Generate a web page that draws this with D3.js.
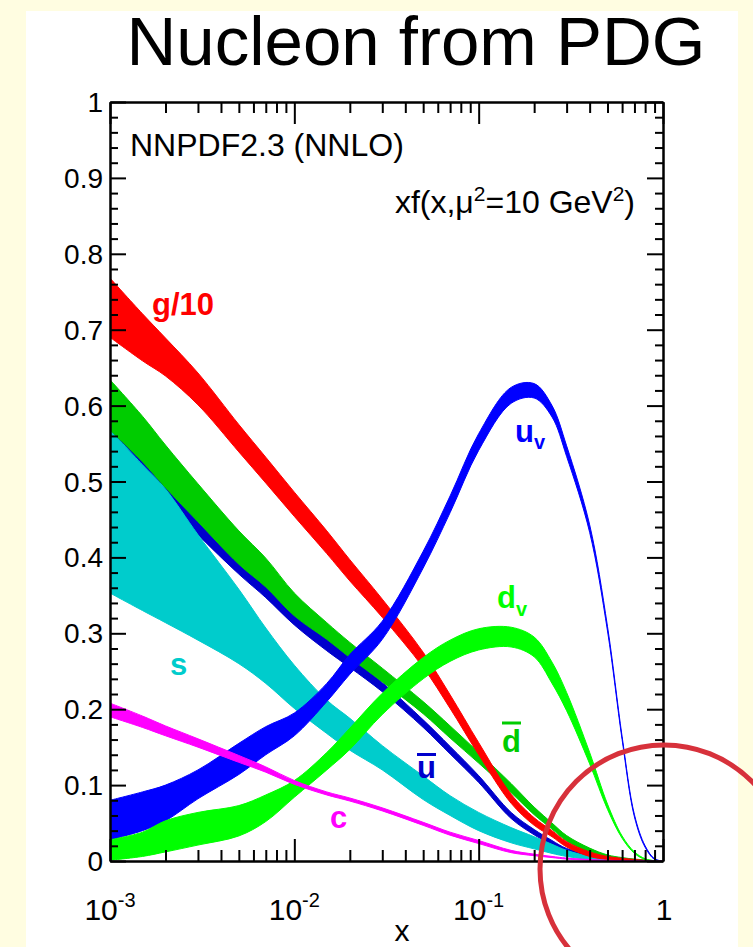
<!DOCTYPE html>
<html><head><meta charset="utf-8">
<script src="https://cdn.jsdelivr.net/npm/d3@7"></script>
<style>
html,body{margin:0;padding:0;background:#fffde1;}
svg{display:block;}
text{font-family:"Liberation Sans", Arial, Helvetica, sans-serif;}
</style></head><body>
<svg id="c" width="753" height="947"></svg>
<script>
// ---- data ----
const xGrid = [0.001,0.0015,0.002,0.003,0.005,0.007,0.01,0.015,0.02,0.03,0.05,0.07,0.1,0.15,0.2,0.25,0.3,0.4,0.5,0.6,0.7,0.8,0.9,1.0];

const gLo  = [.690,.659,.639,.601,.539,.498,.454,.405,.369,.321,.255,.201,.140,.076,.047,.032,.0185,.006,.002,.0005,0,0,0,0];
const gHi  = [.768,.721,.689,.643,.575,.532,.486,.435,.397,.345,.275,.219,.156,.088,.057,.040,.0255,.012,.006,.0035,.002,.001,.0005,0];

const ubarLo = [.555,.512,.475,.430,.378,.347,.311,.277,.255,.223,.176,.141,.1035,.056,.0345,.021,.0115,.005,.0015,.0005,0,0,0,0];
const ubarHi = [.615,.568,.525,.470,.402,.367,.329,.293,.269,.235,.186,.151,.1125,.064,.0415,.027,.0165,.009,.0045,.0025,.0014,.0006,.0002,0];

const dbarLo = [.568,.526,.492,.447,.391,.361,.323,.292,.268,.236,.194,.162,.129,.090,.061,.042,.0265,.011,.004,.0015,.0005,0,0,0];
const dbarHi = [.634,.586,.548,.497,.435,.399,.353,.314,.288,.254,.210,.178,.143,.102,.071,.050,.0335,.017,.008,.0045,.0025,.0014,.0005,0];

const sLo = [.353,.330,.314,.291,.260,.234,.201,.168,.146,.120,.081,.060,.040,.024,.016,.010,.006,.002,.001,.0005,.0002,0,0,0];
const sHi = [.568,.522,.490,.430,.358,.307,.258,.212,.188,.152,.112,.086,.064,.044,.032,.022,.014,.006,.003,.0015,.0006,.0003,.0001,0];

const cLo = [.190,.176,.165,.150,.130,.117,.101,.087,.079,.066,.047,.034,.023,.011,.007,.0045,.0025,.001,.0004,.0001,0,0,0,0];
const cHi = [.208,.191,.178,.161,.139,.124,.106,.091,.083,.070,.051,.038,.027,.014,.009,.006,.0038,.002,.001,.0005,.0002,0,0,0];

const uvLo = [.028,.040,.053,.082,.114,.140,.165,.210,.246,.292,.386,.459,.541,.603,.610,.585,.533,.433,.303,.160,.058,.018,.002,0];
const uvHi = [.080,.091,.100,.120,.155,.177,.195,.234,.272,.316,.408,.481,.563,.624,.629,.600,.547,.443,.309,.164,.061,.020,.003,0];

const dvLo = [.001,.006,.012,.021,.033,.052,.084,.120,.147,.193,.240,.263,.278,.282,.269,.234,.198,.128,.068,.030,.010,.002,0,0];
const dvHi = [.028,.038,.053,.064,.073,.087,.106,.143,.175,.221,.268,.291,.306,.308,.295,.262,.222,.143,.075,.033,.012,.003,.0004,0];

const xMajor = [0.001,0.01,0.1,1];
const xMajorExp = ["-3","-2","-1",""];
const yMajor = [0,0.1,0.2,0.3,0.4,0.5,0.6,0.7,0.8,0.9,1];
const yMajorLabels = ["0","0.1","0.2","0.3","0.4","0.5","0.6","0.7","0.8","0.9","1"];

// ---- drawing ----
const W=753,H=947;
const svg=d3.select('#c');
svg.append('rect').attr('width',W).attr('height',H).attr('fill','#fffde1');
svg.append('rect').attr('x',26).attr('y',11).attr('width',712).attr('height',H-11).attr('fill','#ffffff');

const x=d3.scaleLog().domain([1e-3,1]).range([110,663]);
const y=d3.scaleLinear().domain([0,1]).range([861,102]);

svg.append('defs').append('clipPath').attr('id','clip')
  .append('rect').attr('x',110).attr('y',102).attr('width',553).attr('height',759);

const plot=svg.append('g').attr('clip-path','url(#clip)');
const series=[
  {lo:ubarLo,hi:ubarHi,col:'#0000cc'},
  {lo:sLo,hi:sHi,col:'#00cccc'},
  {lo:dbarLo,hi:dbarHi,col:'#00cc00'},
  {lo:gLo,hi:gHi,col:'#ff0000'},
  {lo:uvLo,hi:uvHi,col:'#0000ff'},
  {lo:dvLo,hi:dvHi,col:'#00ff00'},
  {lo:cLo,hi:cHi,col:'#ff00ff'}
];
const area=d3.area().x(d=>x(d.x)).y0(d=>y(d.lo)).y1(d=>y(d.hi)).curve(d3.curveCatmullRom.alpha(0.5));
series.forEach(s=>{
  const pts=xGrid.map((v,i)=>({x:v,lo:s.lo[i],hi:s.hi[i]}));
  plot.append('path').datum(pts).attr('d',area).attr('fill',s.col).attr('stroke',s.col).attr('stroke-width',1);
});

// minor ticks
const xMinor=[];
[0.001,0.01,0.1].forEach(b=>{for(let k=2;k<=9;k++) xMinor.push(b*k);});
const yMinor=d3.range(0,51).map(i=>i*0.02).filter(v=>Math.abs(v*10-Math.round(v*10))>1e-6);

function styleAxis(g){
  g.selectAll('.domain').attr('stroke','#000').attr('stroke-width',2);
  g.selectAll('.tick line').attr('stroke','#000').attr('stroke-width',2);
}
// bottom & top
[[y(0),d3.axisBottom],[y(1),d3.axisTop]].forEach(([ty,fn])=>{
  svg.append('g').attr('transform',`translate(0,${ty})`)
    .call(fn(x).tickValues(xMajor).tickSize(-22).tickSizeOuter(0).tickFormat('')).call(styleAxis);
  svg.append('g').attr('transform',`translate(0,${ty})`)
    .call(fn(x).tickValues(xMinor).tickSize(-11).tickSizeOuter(0).tickFormat('')).call(styleAxis);
});
// left & right
[[x(1e-3),d3.axisLeft],[x(1),d3.axisRight]].forEach(([tx,fn])=>{
  svg.append('g').attr('transform',`translate(${tx},0)`)
    .call(fn(y).tickValues(yMajor).tickSize(-16).tickSizeOuter(0).tickFormat('')).call(styleAxis);
  svg.append('g').attr('transform',`translate(${tx},0)`)
    .call(fn(y).tickValues(yMinor).tickSize(-8).tickSizeOuter(0).tickFormat('')).call(styleAxis);
});

// y labels
svg.append('g').selectAll('text').data(yMajor).join('text')
  .attr('x',103).attr('y',d=>y(d)).attr('dy','0.36em')
  .attr('text-anchor','end').attr('font-size',28).text((d,i)=>yMajorLabels[i]);

// x labels
xMajor.forEach((v,i)=>{
  const t=svg.append('text').attr('x',x(v)+(xMajorExp[i]?0:1)).attr('y',920).attr('text-anchor','middle').attr('font-size',30);
  if(xMajorExp[i]){
    t.append('tspan').text('10');
    t.append('tspan').attr('font-size',20).attr('dy',-13).text(xMajorExp[i]);
  } else t.text('1');
});
svg.append('text').attr('x',402).attr('y',941).attr('text-anchor','middle').attr('font-size',30).text('x');

// title
svg.append('text').attr('x',416).attr('y',65).attr('text-anchor','middle').attr('font-size',69).text('Nucleon from PDG');

svg.append('text').attr('x',130).attr('y',156).attr('font-size',32).text('NNPDF2.3 (NNLO)');
const t2=svg.append('text').attr('x',635).attr('y',213).attr('text-anchor','end').attr('font-size',32);
t2.append('tspan').text('xf(x,μ');
t2.append('tspan').attr('font-size',21).attr('dy',-12).text('2');
t2.append('tspan').attr('dy',12).text('=10 GeV');
t2.append('tspan').attr('font-size',21).attr('dy',-12).text('2');
t2.append('tspan').attr('dy',12).text(')');

// series labels
const lab=(txt,xx,yy,col)=>svg.append('text').attr('x',xx).attr('y',yy).attr('font-size',31).attr('font-weight','bold').attr('fill',col).text(txt);
lab('g/10',152,315,'#ff0000');
lab('s',170,675,'#00cccc');
lab('c',330,828,'#ff00ff');
const uv=lab('u',515,442,'#0000ff'); uv.append('tspan').attr('font-size',20).attr('dy',7).text('v');
const dv=lab('d',497,608,'#00ff00'); dv.append('tspan').attr('font-size',20).attr('dy',8).text('v');
lab('d',502,752,'#00cc00');
svg.append('line').attr('x1',502).attr('x2',521).attr('y1',723).attr('y2',723).attr('stroke','#00cc00').attr('stroke-width',3);
lab('u',417,778,'#0000cc');
svg.append('line').attr('x1',417).attr('x2',436).attr('y1',754.5).attr('y2',754.5).attr('stroke','#0000cc').attr('stroke-width',3);

// highlight circle
svg.append('circle').attr('cx',x(1)+1).attr('cy',y(-0.0105)).attr('r',124)
  .attr('fill','none').attr('stroke','#d7313b').attr('stroke-width',5);
</script>
</body></html>
